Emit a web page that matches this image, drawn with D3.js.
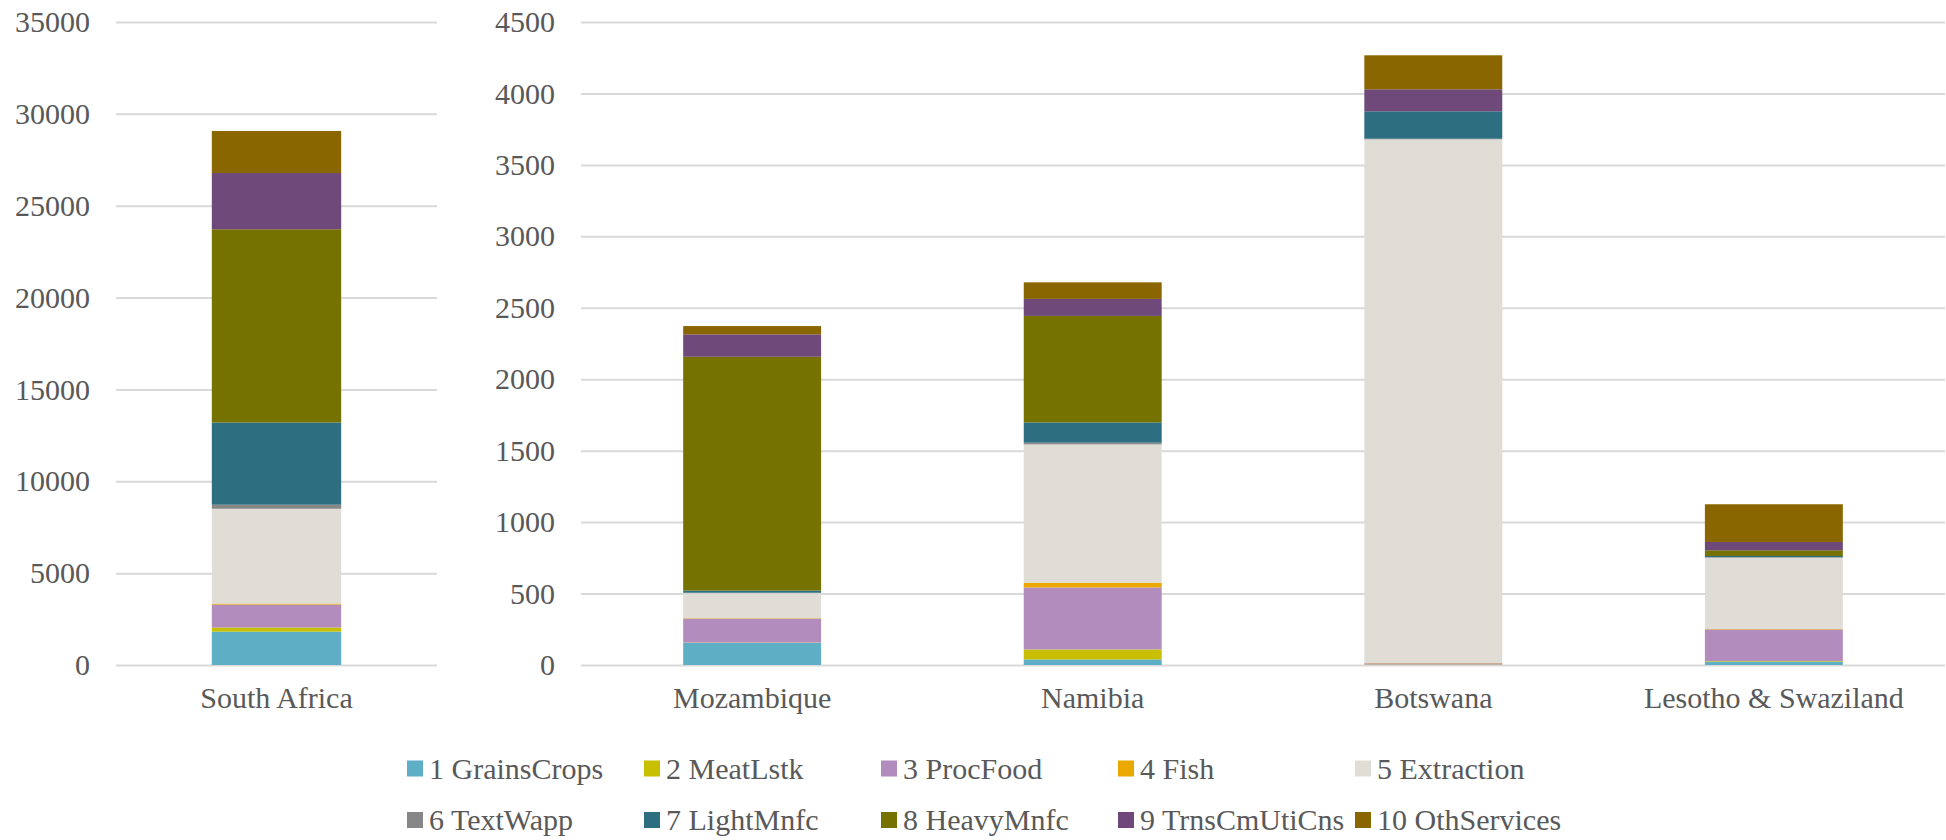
<!DOCTYPE html>
<html>
<head>
<meta charset="utf-8">
<script src="https://cdn.jsdelivr.net/npm/d3@7"></script>
<style>
  html, body { margin: 0; padding: 0; background: #ffffff; }
  svg { display: block; }
  svg text { font-family: "Liberation Serif", "Times New Roman", Times, serif; }
</style>
</head>
<body>
<svg id="chart" width="1946" height="840"></svg>
<script>
// Regions and sectors
const countries = ["South Africa", "Mozambique", "Namibia", "Botswana", "Lesotho & Swaziland"];
const sectors = ["1 GrainsCrops", "2 MeatLstk", "3 ProcFood", "4 Fish", "5 Extraction",
                 "6 TextWapp", "7 LightMnfc", "8 HeavyMnfc", "9 TrnsCmUtiCns", "10 OthServices"];

// Values per sector, in the order of `countries`
const grainsCrops  = [1820, 155,  39,    2,  24];
const meatLstk     = [ 220,   2,  70,    2,   4];
const procFood     = [1250, 168, 434,    8, 221];
const fish         = [  55,   3,  33,    2,   3];
const extraction   = [5160, 175, 968, 3665, 499];
const textWapp     = [ 220,   3,  12,    4,   4];
const lightMnfc    = [4475,  15, 142,  192,   8];
const heavyMnfc    = [10520, 1636, 745,  0,  40];
const trnsCmUtiCns = [3060, 157, 119,  154,  58];
const othServices  = [2290,  58, 116,  238, 264];

const sectorColors = ["#5EAEC6", "#C8BF00", "#B18CBC", "#EAA800", "#E0DDD6",
                      "#878787", "#2D6E80", "#757200", "#6F497A", "#8A6600"];

// Axis ticks for the two panels
const leftTicks  = [0, 5000, 10000, 15000, 20000, 25000, 30000, 35000];
const rightTicks = [0, 500, 1000, 1500, 2000, 2500, 3000, 3500, 4000, 4500];

const seriesValues = [grainsCrops, meatLstk, procFood, fish, extraction,
                      textWapp, lightMnfc, heavyMnfc, trnsCmUtiCns, othServices];

const rows = countries.map((c, i) => {
  const r = { country: c };
  sectors.forEach((s, k) => { r[s] = seriesValues[k][i]; });
  return r;
});

const svg = d3.select("#chart");
const FONT = "\"Liberation Serif\", \"Times New Roman\", Times, serif";
const TEXT = "#595959";
const GRID = "#D9D9D9";
const plotTop = 22, plotBottom = 665;

const color = d3.scaleOrdinal().domain(sectors).range(sectorColors);
const stack = d3.stack().keys(sectors);

function panel(data, x0, x1, yMax, ticks) {
  const x = d3.scaleBand().domain(data.map(d => d.country))
    .range([x0, x1]).paddingInner(0.595).paddingOuter(0.3);
  const y = d3.scaleLinear().domain([0, yMax]).range([plotBottom, plotTop]);

  const g = svg.append("g");

  // Gridlines and value labels
  const yAxis = g.append("g")
    .attr("transform", `translate(${x0},0)`)
    .call(d3.axisLeft(y).tickValues(ticks).tickSize(-(x1 - x0)).tickPadding(26).tickFormat(d3.format("d")));
  yAxis.attr("font-family", null).attr("font-size", null);
  yAxis.select(".domain").remove();
  yAxis.selectAll(".tick line").attr("stroke", GRID).attr("stroke-width", 2);
  yAxis.selectAll(".tick text")
    .style("font-family", FONT).style("font-size", "30px")
    .attr("fill", TEXT).attr("dy", "0.32em");

  // Stacked bars
  const layers = stack(data);
  g.append("g").selectAll("g").data(layers).join("g")
    .attr("fill", d => color(d.key))
    .selectAll("rect").data(d => d).join("rect")
      .attr("x", d => x(d.data.country))
      .attr("width", x.bandwidth())
      .attr("y", d => y(d[1]))
      .attr("height", d => Math.max(0, y(d[0]) - y(d[1])));

  // Category labels
  const xAxis = g.append("g")
    .attr("transform", `translate(0,${plotBottom})`)
    .call(d3.axisBottom(x).tickSize(0).tickPadding(0));
  xAxis.attr("font-family", null).attr("font-size", null);
  xAxis.select(".domain").remove();
  xAxis.selectAll(".tick text")
    .style("font-family", FONT).style("font-size", "30px")
    .attr("fill", TEXT).attr("y", 43).attr("dy", 0);
}

panel(rows.slice(0, 1), 116, 437, 35000, leftTicks);
panel(rows.slice(1), 581, 1945, 4500, rightTicks);

// Legend: two rows of five entries
const legend = svg.append("g");
const legX = d3.scalePoint().domain(d3.range(5)).range([407, 407 + 4 * 237]);
const legY = [768.5, 820];
sectors.forEach((s, i) => {
  const col = i % 5, row = Math.floor(i / 5);
  const item = legend.append("g")
    .attr("transform", `translate(${legX(col)},${legY[row]})`);
  item.append("rect").attr("x", 0).attr("y", -8).attr("width", 16).attr("height", 16)
    .attr("fill", color(s));
  item.append("text").attr("x", 22).attr("y", 0).attr("dy", "0.34em")
    .style("font-family", FONT).style("font-size", "30px")
    .attr("fill", TEXT)
    .text(s);
});
</script>
</body>
</html>
